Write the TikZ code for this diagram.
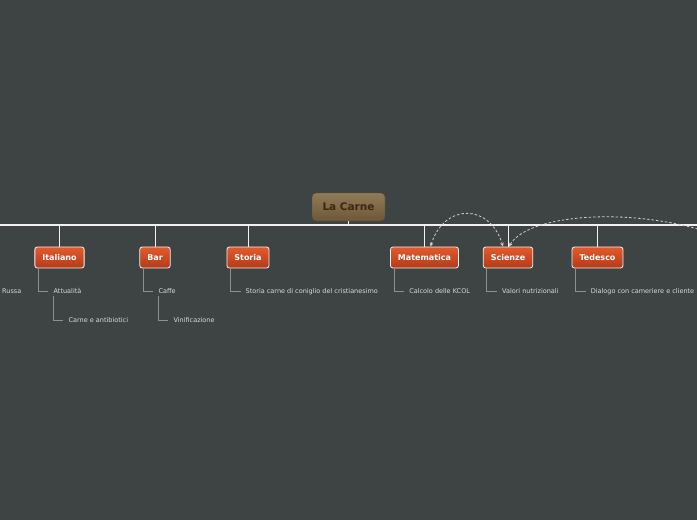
\documentclass[tikz,border=0pt]{standalone}
\usepackage{fontspec}
\setmainfont{DejaVu Sans}
\usepackage{xcolor}
\usetikzlibrary{arrows.meta,calc}
\definecolor{bgdark}{HTML}{3E4444}
\definecolor{rootA}{HTML}{8F7B56}
\definecolor{rootB}{HTML}{6C5839}
\definecolor{rootText}{HTML}{3A2812}
\definecolor{topicA}{HTML}{E35A2C}
\definecolor{topicB}{HTML}{B23B1A}
\definecolor{leafText}{HTML}{DADADA}
\definecolor{twigGray}{HTML}{8E9090}
\definecolor{linkGray}{HTML}{D0D0D0}

\begin{document}
\begin{tikzpicture}[x=1pt, y=-1pt,
    root/.style={rounded corners=4pt, top color=rootA, bottom color=rootB, draw=rootB!80!black,
        line width=0.4pt, text=rootText, font=\fontsize{10.5}{12}\selectfont\bfseries,
        minimum width=73pt, minimum height=28pt, inner sep=0pt},
    topic/.style={rounded corners=2.5pt, top color=topicA, bottom color=topicB, draw=white!90!gray,
        line width=0.8pt, text=white, font=\fontsize{8}{9}\selectfont\bfseries,
        minimum height=21pt, inner xsep=7.5pt, inner ysep=0pt},
    leaf/.style={anchor=west, text=leafText, font=\fontsize{6.5}{7}\selectfont, inner sep=2pt},
    axis/.style={draw=white!90!gray, line width=1.2pt},
    branch/.style={draw=white!90!gray, line width=0.8pt},
    twig/.style={draw=twigGray, line width=1pt},
    link/.style={draw=linkGray, line width=0.8pt, dash pattern=on 2.5pt off 2pt}
]
\useasboundingbox (0,0) rectangle (697,520);
\clip (0,0) rectangle (697,520);
\fill[bgdark] (0,0) rectangle (697,520);

% main line
\coordinate (axisL) at (0,225);
\coordinate (axisR) at (697,225);
\draw[axis] (axisL) -- (axisR);

\node[root] (root) at (348.5,207) {La Carne};
\draw[branch] (root.south) -- (root.south |- axisL);

% subjects
\foreach \nm/\x/\txt in {ital/59.5/Italiano, bar/155/Bar, stor/248/Storia,
                         mate/424.5/Matematica, scie/508/Scienze, tede/597.5/Tedesco}
{
    \node[topic] (\nm) at (\x,257.5) {\txt};
    \draw[branch] (\nm.north) -- (\nm.north |- axisL);
}

% first level leaves
\node[leaf] (russa) at (0,291) {Russa};
\foreach \nm/\up/\txt in {attu/ital/Attualità, caff/bar/Caffe,
                          stca/stor/Storia carne di coniglio del cristianesimo,
                          kcol/mate/Calcolo delle KCOL, valo/scie/Valori nutrizionali,
                          dial/tede/Dialogo con cameriere e cliente}
{
    \node[leaf] (\nm) at ($(\up.south west)+(17,23)$) {\txt};
    \draw[twig] ([xshift=4pt]\up.south west) |- ([xshift=-3pt]\nm.west);
}

% second level leaves
\foreach \nm/\up/\txt in {carn/attu/Carne e antibiotici, vini/caff/Vinificazione}
{
    \node[leaf] (\nm) at ($(\up.west)+(15,29)$) {\txt};
    \draw[twig] ([xshift=2pt]\up.south west) |- ([xshift=-3pt]\nm.west);
}

% relations
\coordinate (offR) at (740,245);
\draw[link, {Stealth[length=4pt,width=3.5pt]}-{Stealth[length=4pt,width=3.5pt]}]
    ([xshift=6pt]mate.north) .. controls (444,203) and (490,203) .. ([xshift=-5pt]scie.north);
\draw[link, -{Stealth[length=4pt,width=3.5pt]}]
    (offR) .. controls (660,205) and (530,210) .. ([xshift=1pt]scie.north);
\end{tikzpicture}
\end{document}
